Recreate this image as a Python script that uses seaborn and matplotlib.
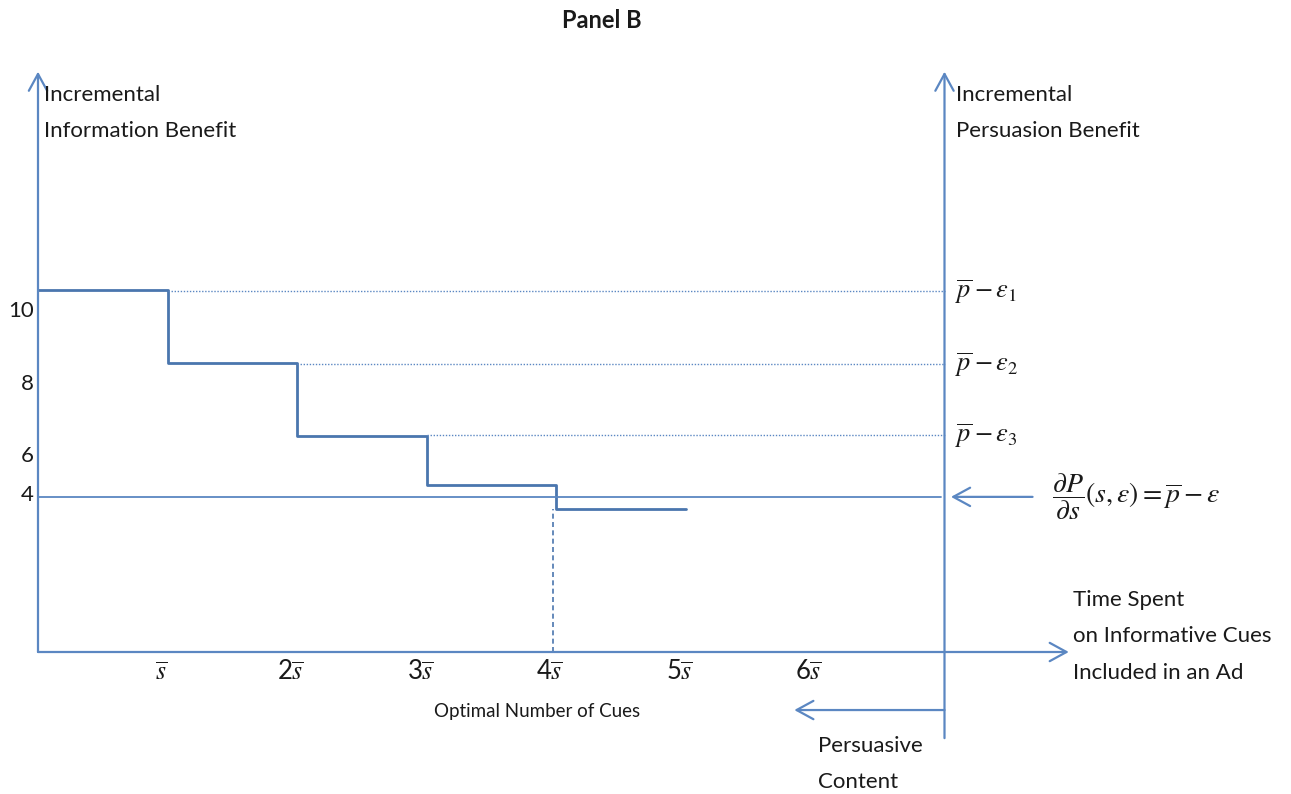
import matplotlib
matplotlib.use("Agg")
import matplotlib.pyplot as plt
import seaborn as sns
import pandas as pd

# ---------------- data ----------------
cue_positions = [0, 1, 2, 3, 4, 5]                 # multiples of s-bar
step_levels = [9.92, 7.92, 5.92, 4.58, 3.92, 3.92]  # incremental information benefit
dotted_starts = [1, 2, 3]                           # where persuasion levels start
persuasion_levels = [9.9, 7.9, 5.95]                # p-bar - eps_i
optimal_level = 4.25                                # dP/ds = p - eps
optimal_cues = 4
ytick_positions = [9.35, 7.35, 5.37, 4.3]
ytick_labels = ["10", "8", "6", "4"]
xtick_positions = [1, 2, 3, 4, 5, 6]
xtick_labels = [r"$\overline{s}$", r"2$\overline{s}$", r"3$\overline{s}$",
                r"4$\overline{s}$", r"5$\overline{s}$", r"6$\overline{s}$"]
level_labels = [r"$\overline{p}-\varepsilon_1$", r"$\overline{p}-\varepsilon_2$",
                r"$\overline{p}-\varepsilon_3$"]

# ---------------- style ----------------
sns.set_theme(style="white")
plt.rcParams["font.family"] = ["Lato", "DejaVu Sans"]
plt.rcParams["mathtext.fontset"] = "stix"

AX = "#5b87c2"
STEP = "#4a76ae"
TXT = "#1a1a1a"

fig = plt.figure(figsize=(12.91, 7.94), dpi=100)
ax = fig.add_axes([0, 0, 1, 1])
ax.set_xlim(-38 / 129.5, (1291 - 38) / 129.5)
ax.set_ylim(-(794 - 652) / 36.5, 652 / 36.5)
ax.axis("off")

# step function
df = pd.DataFrame({"x": cue_positions, "y": step_levels})
sns.lineplot(data=df, x="x", y="y", ax=ax, drawstyle="steps-post",
             color=STEP, lw=2.0, sort=False, estimator=None)

# dotted persuasion lines
right_x = 7.0
for xs, lv in zip(dotted_starts, persuasion_levels):
    ax.plot([xs, right_x], [lv, lv], color=AX, lw=1.0, ls=(0, (1, 1.2)))

# optimal line
ax.plot([0, right_x - 0.03], [optimal_level, optimal_level], color=AX, lw=1.3)
# dashed vertical at optimum
ax.plot([optimal_cues - 0.02, optimal_cues - 0.02], [0, step_levels[4]],
        color=STEP, lw=1.2, ls=(0, (3, 2)))

arrow = dict(arrowstyle="->,head_length=0.55,head_width=0.3", color=AX, lw=1.6,
             shrinkA=0, shrinkB=0, mutation_scale=22)
# axes
ax.annotate("", xy=(0, 15.9), xytext=(0, 0), arrowprops=arrow)
ax.annotate("", xy=(right_x, 15.9), xytext=(right_x, -2.36), arrowprops=arrow)
ax.annotate("", xy=(7.96, 0), xytext=(0, 0), arrowprops=arrow)
ax.annotate("", xy=(5.84, -1.59), xytext=(right_x, -1.59), arrowprops=arrow)
ax.annotate("", xy=(7.05, 4.25), xytext=(7.68, 4.25), arrowprops=arrow)

# texts
fs = 16
ax.text(4.355, 17.3, "Panel B", ha="center", va="center", fontsize=17,
        fontweight="bold", color=TXT)
ax.text(0.05, (652 - 95) / 36.5, "Incremental", ha="left", va="center", fontsize=fs, color=TXT)
ax.text(0.05, (652 - 131) / 36.5, "Information Benefit", ha="left", va="center", fontsize=fs, color=TXT)
ax.text(7.09, (652 - 95) / 36.5, "Incremental", ha="left", va="center", fontsize=fs, color=TXT)
ax.text(7.09, (652 - 131) / 36.5, "Persuasion Benefit", ha="left", va="center", fontsize=fs, color=TXT)

for yp, lab in zip(ytick_positions, ytick_labels):
    ax.text(-0.03, yp, lab, ha="right", va="center", fontsize=fs, color=TXT)

for xp, lab in zip(xtick_positions, xtick_labels):
    ax.text(xp - 0.05, -0.55, lab, ha="center", va="center", fontsize=18.5, color=TXT)

ax.text(3.85, -1.62, "Optimal Number of Cues", ha="center", va="center", fontsize=13.5, color=TXT)
for i, line in enumerate(["Time Spent", "on Informative Cues", "Included in an Ad"]):
    ax.text(7.99, (652 - 600 - 36.5 * i) / 36.5, line, ha="left", va="center",
            fontsize=fs, color=TXT)
for i, line in enumerate(["Persuasive", "Content"]):
    ax.text(6.02, (652 - 746 - 36 * i) / 36.5, line, ha="left", va="center",
            fontsize=fs, color=TXT)

for lv, lab in zip(persuasion_levels, level_labels):
    ax.text(7.08, lv - 0.02, lab, ha="left", va="center", fontsize=19, color=TXT)
ax.text(7.83, optimal_level, r"$\dfrac{\partial P}{\partial s}(s,\varepsilon)=\overline{p}-\varepsilon$",
        ha="left", va="center", fontsize=20, color=TXT)

fig.savefig("out.png", dpi=100)
